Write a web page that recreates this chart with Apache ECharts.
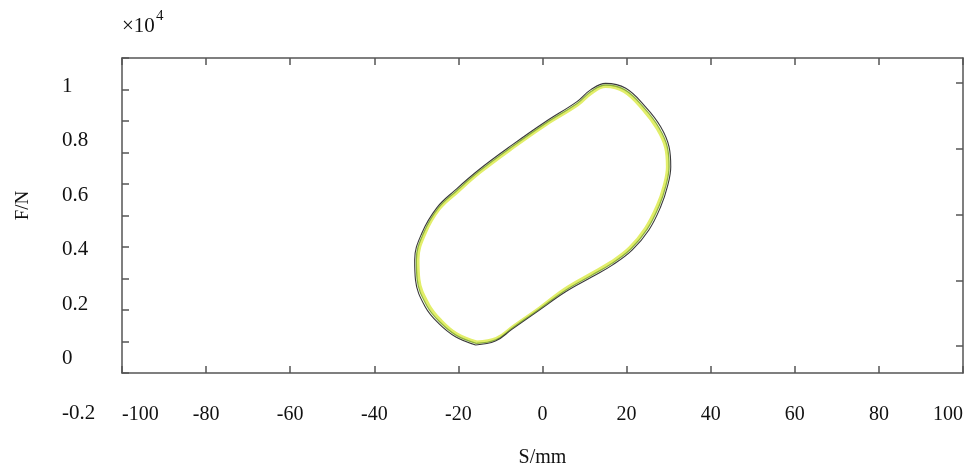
<!DOCTYPE html>
<html>
<head>
<meta charset="utf-8">
<script src="https://cdn.jsdelivr.net/npm/echarts@6/dist/echarts.min.js"></script>
<style>html,body{margin:0;padding:0;background:#fff}#c{width:966px;height:466px}</style>
</head>
<body>
<div id="c"></div>
<script>
// x: S/mm, y: F/N in units of 10^4
const xTicks = [-100, -80, -60, -40, -20, 0, 20, 40, 60, 80, 100];
const yTickLabels = [-0.2, 0, 0.2, 0.4, 0.6, 0.8, 1];
const xName = 'S/mm';
const yName = 'F/N';

const loopOuter = [[-15.9,0.048],[-11.2,0.062],[-7.2,0.106],[-0.9,0.174],[5.5,0.243],[11.8,0.298],[16.6,0.341],[21.3,0.396],[25.3,0.470],[28.1,0.555],[29.7,0.629],[30.5,0.702],[30.1,0.775],[28.1,0.849],[24.5,0.922],[19.8,0.990],[15.0,1.008],[11.5,0.985],[8.2,0.941],[0.7,0.867],[-7.2,0.782],[-15.2,0.690],[-20.7,0.617],[-25.1,0.552],[-28.7,0.458],[-30.4,0.360],[-30.2,0.286],[-27.9,0.188],[-24.7,0.127],[-20.7,0.078],[-15.9,0.048]];
const loopGreen = [[-15.8,0.054],[-11.1,0.067],[-7.1,0.111],[-0.8,0.179],[5.4,0.248],[11.6,0.303],[16.4,0.346],[21.0,0.400],[24.9,0.473],[27.7,0.557],[29.3,0.630],[30.1,0.702],[29.7,0.773],[27.7,0.845],[24.2,0.917],[19.6,0.984],[15.0,1.002],[11.6,0.979],[8.3,0.935],[0.8,0.862],[-7.1,0.777],[-15.0,0.686],[-20.4,0.614],[-24.8,0.550],[-28.3,0.458],[-30.0,0.361],[-29.8,0.288],[-27.5,0.192],[-24.4,0.132],[-20.5,0.083],[-15.8,0.054]];
const loopYellow = [[-15.6,0.059],[-11.0,0.072],[-7.0,0.116],[-0.7,0.184],[5.3,0.253],[11.4,0.308],[16.2,0.351],[20.7,0.404],[24.5,0.476],[27.3,0.559],[28.9,0.631],[29.7,0.702],[29.3,0.771],[27.3,0.841],[23.9,0.912],[19.4,0.978],[15.0,0.996],[11.7,0.973],[8.4,0.929],[0.9,0.857],[-7.0,0.772],[-14.8,0.682],[-20.1,0.611],[-24.5,0.548],[-27.9,0.458],[-29.6,0.362],[-29.4,0.290],[-27.1,0.196],[-24.1,0.137],[-20.3,0.088],[-15.6,0.059]];

const FONT = '"Liberation Serif", "DejaVu Serif", serif';
const AX = { color: '#555', width: 1.5 };
const chart = echarts.init(document.getElementById('c'), null, { renderer: 'canvas' });
chart.setOption({
  animation: false,
  backgroundColor: '#fff',
  graphic: [
    { type: 'text', left: 122, top: 16, style: { text: '×10', font: '21px ' + FONT, fill: '#111' } },
    { type: 'text', left: 156, top: 9, style: { text: '4', font: '15px ' + FONT, fill: '#111' } }
  ],
  grid: [
    { left: 122, right: 3, top: 58, bottom: 93, containLabel: false, outerBoundsMode: 'none' },
    { left: 122, right: 3, top: 86, bottom: 53, show: false, containLabel: false, outerBoundsMode: 'none' }
  ],
  xAxis: [
    { gridIndex: 0, type: 'value', position: 'bottom', min: xTicks[0], max: xTicks[xTicks.length - 1], interval: 20,
      axisLine: { show: true, onZero: false, lineStyle: AX }, axisTick: { show: true, inside: true, length: 7, lineStyle: AX },
      splitLine: { show: false },
      axisLabel: { show: true, margin: 32, fontSize: 20, fontFamily: FONT, color: '#111', alignMinLabel: 'left', alignMaxLabel: 'right' },
      name: xName, nameLocation: 'middle', nameGap: 75, nameTextStyle: { fontSize: 20, fontFamily: FONT, color: '#111' } },
    { gridIndex: 0, type: 'value', position: 'top', min: xTicks[0], max: xTicks[xTicks.length - 1], interval: 20,
      axisLine: { show: true, onZero: false, lineStyle: AX }, axisTick: { show: true, inside: true, length: 7, lineStyle: AX },
      splitLine: { show: false }, axisLabel: { show: false } },
    { gridIndex: 1, type: 'value', min: xTicks[0], max: xTicks[xTicks.length - 1], show: false }
  ],
  yAxis: [
    { gridIndex: 0, type: 'value', min: -0.055, max: 1.101, show: false, axisLine: { onZero: false } },
    { gridIndex: 0, type: 'value', position: 'left', min: 0, max: 10, interval: 1,
      axisLine: { show: true, onZero: false, lineStyle: AX }, axisTick: { show: true, inside: true, length: 7, lineStyle: AX },
      splitLine: { show: false }, axisLabel: { show: false },
      name: yName, nameLocation: 'middle', nameRotate: 90, nameGap: 89,
      nameTextStyle: { fontSize: 19, fontFamily: FONT, color: '#111', padding: [0, 0, 0, 20] } },
    { gridIndex: 0, type: 'value', position: 'right', min: 0.59, max: 5.38,
      axisLine: { show: true, onZero: false, lineStyle: AX },
      axisTick: { show: true, inside: true, length: 7, lineStyle: AX, customValues: [1, 2, 3, 4, 5] },
      splitLine: { show: false }, axisLabel: { show: false } },
    { gridIndex: 1, type: 'value', position: 'left', min: yTickLabels[0], max: yTickLabels[yTickLabels.length - 1], interval: 0.2,
      axisLine: { show: false, onZero: false }, axisTick: { show: false }, splitLine: { show: false },
      axisLabel: { show: true, margin: 60, align: 'left', fontSize: 21, fontFamily: FONT, color: '#111' } }
  ],
  series: [
    { type: 'line', xAxisIndex: 0, yAxisIndex: 0, data: loopYellow, smooth: 0.4, showSymbol: false,
      lineStyle: { color: '#e2ee6a', width: 3 }, z: 2 },
    { type: 'line', xAxisIndex: 0, yAxisIndex: 0, data: loopGreen, smooth: 0.4, showSymbol: false,
      lineStyle: { color: '#8fb43a', width: 1.3 }, z: 3 },
    { type: 'line', xAxisIndex: 0, yAxisIndex: 0, data: loopOuter, smooth: 0.4, showSymbol: false,
      lineStyle: { color: '#3a3a3a', width: 1.1 }, z: 4 }
  ]
});
</script>
</body>
</html>
